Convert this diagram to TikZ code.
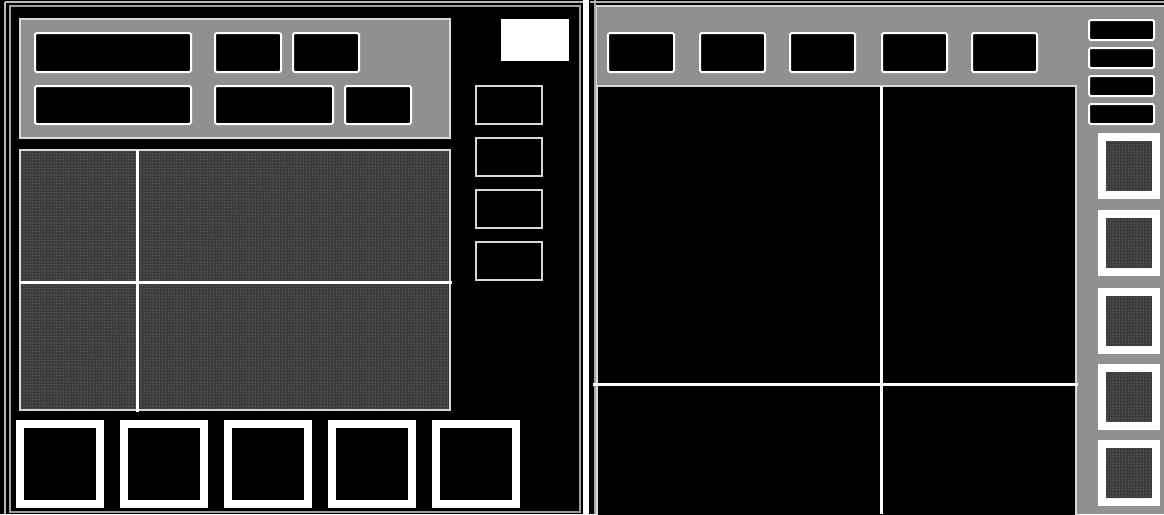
\documentclass[tikz,border=0pt]{standalone}
\usetikzlibrary{patterns}
\definecolor{chk}{HTML}{909090}
\definecolor{dotc}{HTML}{3A3A3A}
\definecolor{dotp}{HTML}{A0A0A0}
\definecolor{edge}{HTML}{D8D8D8}
\tikzset{
  chkarea/.style={fill=chk, draw=edge, line width=1.2pt},
  dotarea/.style={fill=dotc, draw=edge, line width=1.2pt},
  blackbox/.style={fill=black, draw=white, line width=2pt, rounded corners=1.5pt},
  thinbox/.style={fill=black, draw=edge, line width=1.5pt},
  thicksq/.style={fill=black, draw=white, line width=8pt},
  thickdotsq/.style={fill=dotc, draw=white, line width=7.5pt},
  dotfill/.style={pattern=dots, pattern color=dotp},
  divider/.style={draw=white, line width=3pt},
  frameline/.style={draw=gray!75, line width=2pt}
}
\begin{document}
\begin{tikzpicture}[x=1pt,y=-1pt]
\useasboundingbox (0,0) rectangle (1164,514);
\fill[black] (0,0) rectangle (1164,514);
% ---------- left panel frame ----------
\draw[frameline] (10,6) rectangle (580,512);
\draw[draw=gray!55, line width=1.5pt] (5,2) -- (584,2);
\draw[draw=gray!55, line width=1.5pt] (5,2) -- (5,514);
\fill[white] (583,0) rectangle (589,514);
% top checker area
\draw[chkarea] (20,19) rectangle (450,138);
\draw[blackbox] (35,33) rectangle (191,72);
\draw[blackbox] (215,33) rectangle (281,72);
\draw[blackbox] (293,33) rectangle (359,72);
\draw[blackbox] (35,86) rectangle (191,124);
\draw[blackbox] (215,86) rectangle (333,124);
\draw[blackbox] (345,86) rectangle (411,124);
% white box top right
\fill[white] (501,19) rectangle (569,61);
% four small boxes
\foreach \t in {86,138,190,242}
  \draw[thinbox] (476,\t) rectangle (542,\t+38);
% dotted middle area
\draw[dotarea] (20,150) rectangle (450,410);
\fill[dotfill] (21,151) rectangle (449,409);
\draw[divider] (137,150) -- (137,412);
\draw[divider] (20,282) -- (452,282);
% bottom squares
\foreach \i in {0,...,4}
  \draw[thicksq] (20+104*\i,424) rectangle (100+104*\i,504);
% ---------- right panel ----------
\fill[chk] (596,6) rectangle (1164,514);
\draw[draw=edge, line width=1.2pt] (596,514) -- (596,6) -- (1164,6);
\draw[draw=gray!70, line width=2pt] (595,0) -- (595,514);
\draw[draw=gray!60, line width=1.5pt] (590,2) -- (1164,2);
% top row boxes
\foreach \x/\w in {608/66,700/65,790/65,882/65,972/65}
  \draw[blackbox] (\x,33) rectangle (\x+\w,72);
% big black area
\draw[fill=black, draw=edge, line width=1.5pt] (597,86) -- (1076,86) -- (1076,516) -- (597,516) -- cycle;
\draw[divider] (593,384) -- (1078,384);
\draw[divider] (881,86) -- (881,514);
% right column bars
\foreach \t in {20,48,76,104}
  \draw[blackbox] (1089,\t) rectangle (1154,\t+20);
% right column squares
\foreach \t in {133,210,288,364,440}{
  \draw[thickdotsq] (1102,\t+4) rectangle (1156,\t+62);
  \fill[dotfill] (1106,\t+8) rectangle (1152,\t+58);
}
\end{tikzpicture}
\end{document}
